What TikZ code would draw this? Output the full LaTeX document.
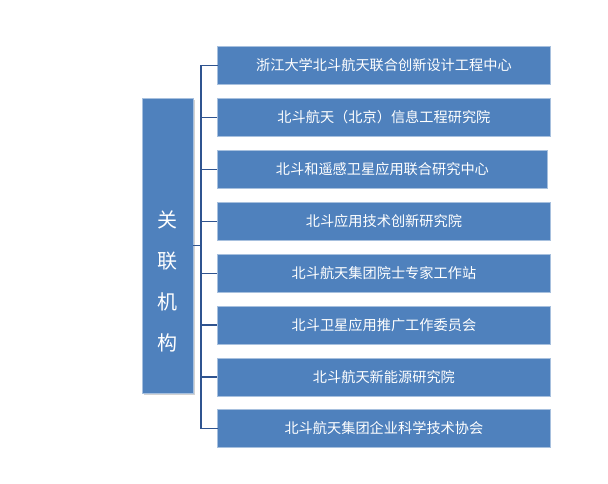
\documentclass[tikz,border=0pt]{standalone}
\usepackage{fontspec}
\newfontfamily\cjk{Noto Sans CJK SC}
\usetikzlibrary{shadows}
\definecolor{boxblue}{HTML}{4F81BD}
\definecolor{boxedge}{HTML}{A7C0DE}
\definecolor{linkblue}{HTML}{2F5490}
\begin{document}
\begin{tikzpicture}[x=1pt,y=-1pt,
  itembox/.style={draw=boxedge,line width=0.8pt,fill=boxblue,minimum width=333pt,minimum height=38pt,inner sep=0pt,anchor=north west,text=white,font=\cjk\fontsize{14.2}{16}\selectfont},
  mainbox/.style={draw=boxedge,line width=0.8pt,fill=boxblue,minimum width=51pt,minimum height=295pt,inner sep=0pt,drop shadow={shadow xshift=1.5pt,shadow yshift=-2pt,opacity=0.35}},
  maintext/.style={text=white,font=\cjk\fontsize{20}{41}\selectfont,align=center,inner sep=0pt},
  link/.style={draw=linkblue,line width=1.6pt}]
\useasboundingbox (0,0) rectangle (608,483);
\fill[white] (0,0) rectangle (608,483);
\node[mainbox] (m) at (167.5,245.5) {};
\node[maintext] (mt) at (167.5,281) {关\\联\\机\\构};
\node[itembox] (b1) at (217,46) {浙江大学北斗航天联合创新设计工程中心};
\node[itembox] (b2) at (217,98) {北斗航天（北京）信息工程研究院};
\node[itembox,minimum width=330pt] (b3) at (217,150) {北斗和遥感卫星应用联合研究中心};
\node[itembox] (b4) at (217,202) {北斗应用技术创新研究院};
\node[itembox] (b5) at (217,254) {北斗航天集团院士专家工作站};
\node[itembox] (b6) at (217,305.5) {北斗卫星应用推广工作委员会};
\node[itembox] (b7) at (217,357.5) {北斗航天新能源研究院};
\node[itembox] (b8) at (217,409) {北斗航天集团企业科学技术协会};
\coordinate (j) at (201,245.5);
\draw[link] (m.east) -- (j);
\draw[link,line cap=rect] (b1.west) -| (j) |- (b8.west);
\foreach \i in {2,...,7} \draw[link] (b\i.west) -- (j |- b\i.west);
\end{tikzpicture}
\end{document}
